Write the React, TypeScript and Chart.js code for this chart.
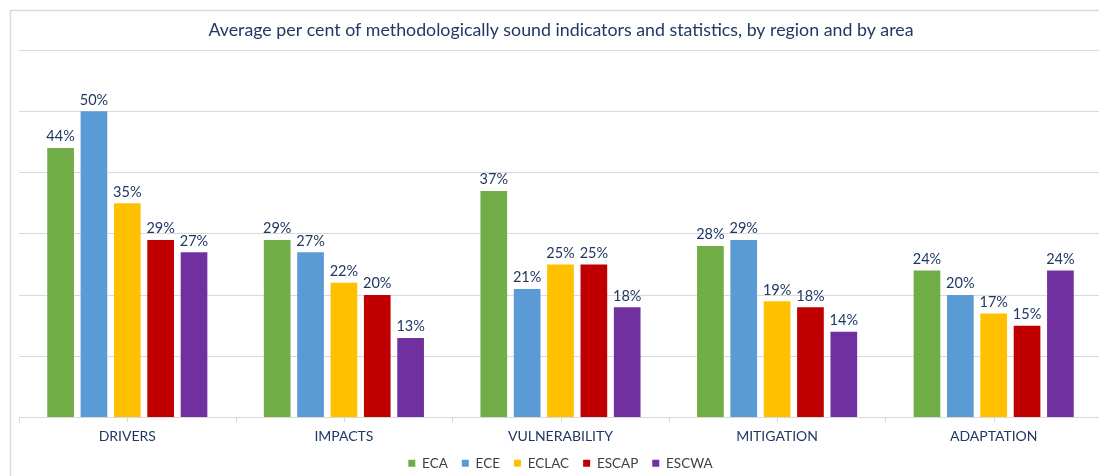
import React, { useEffect, useRef } from "react";
import { Chart, registerables } from "chart.js";

Chart.register(...registerables);

const categories = ["DRIVERS", "IMPACTS", "VULNERABILITY", "MITIGATION", "ADAPTATION"];
const seriesNames = ["ECA", "ECE", "ECLAC", "ESCAP", "ESCWA"];
const ecaValues = [44, 29, 37, 28, 24];
const eceValues = [50, 27, 21, 29, 20];
const eclacValues = [35, 22, 25, 19, 17];
const escapValues = [29, 20, 25, 18, 15];
const escwaValues = [27, 13, 18, 14, 24];
const seriesColors = ["#70AD47", "#5B9BD5", "#FFC000", "#C00000", "#7030A0"];
const titleText =
  "Average per cent of methodologically sound indicators and statistics, by region and by area";

const FONT = "Lato, 'Open Sans', sans-serif";
const NAVY = "#203864";
const GRID = "#d9d9d9";

export default function App() {
  const ref = useRef<HTMLCanvasElement | null>(null);

  useEffect(() => {
    const canvas = ref.current;
    if (!canvas) return;
    const allValues = [ecaValues, eceValues, eclacValues, escapValues, escwaValues];

    const framePlugin = {
      id: "frame",
      beforeDraw(chart: any) {
        const ctx = chart.ctx;
        ctx.save();
        ctx.fillStyle = "#ffffff";
        ctx.fillRect(0, 0, chart.width, chart.height);
        ctx.strokeStyle = GRID;
        ctx.lineWidth = 1.5;
        ctx.strokeRect(10.5, 10.5, chart.width + 50, chart.height + 50);
        ctx.fillStyle = NAVY;
        ctx.font = `17.8px ${FONT}`;
        ctx.textAlign = "center";
        ctx.textBaseline = "middle";
        ctx.fillText(titleText, 561, 30);
        ctx.restore();
      },
      afterDraw(chart: any) {
        const ctx = chart.ctx;
        const x = chart.scales.x;
        const bottom = chart.chartArea.bottom;
        const n = categories.length;
        const w = (x.getPixelForValue(1) - x.getPixelForValue(0));
        ctx.save();
        ctx.strokeStyle = GRID;
        ctx.lineWidth = 1;
        for (let i = 0; i < n; i++) {
          const c = x.getPixelForValue(i);
          const pts = [c - w / 2, c];
          if (i === n - 1) pts.push(c + w / 2);
          for (const p of pts) {
            ctx.beginPath();
            ctx.moveTo(Math.round(p) + 0.5, bottom);
            ctx.lineTo(Math.round(p) + 0.5, bottom + 5);
            ctx.stroke();
          }
        }
        ctx.restore();
      },
      afterDatasetsDraw(chart: any) {
        const ctx = chart.ctx;
        ctx.save();
        ctx.fillStyle = NAVY;
        ctx.font = `14.5px ${FONT}`;
        ctx.textAlign = "center";
        ctx.textBaseline = "bottom";
        chart.data.datasets.forEach((ds: any, di: number) => {
          const meta = chart.getDatasetMeta(di);
          meta.data.forEach((el: any, i: number) => {
            ctx.fillText(`${ds.data[i]}%`, el.x, el.y - 4);
          });
        });
        ctx.restore();
      },
    };

    const chart = new Chart(canvas, {
      type: "bar",
      data: {
        labels: categories,
        datasets: seriesNames.map((name, i) => ({
          label: name,
          data: allValues[i],
          backgroundColor: seriesColors[i],
          borderWidth: 0,
          categoryPercentage: 0.77,
          barPercentage: 0.8,
        })),
      },
      options: {
        responsive: false,
        animation: false,
        layout: { padding: { left: 19, right: 2, top: 50, bottom: -4 } },
        plugins: {
          legend: {
            position: "bottom",
            labels: {
              boxWidth: 7,
              boxHeight: 7,
              padding: 14,
              color: "#404040",
              font: { family: FONT, size: 13.5 },
            },
          },
          tooltip: { enabled: false },
          title: { display: false },
        },
        scales: {
          x: {
            grid: { display: false },
            border: { display: false },
            ticks: {
              color: NAVY,
              padding: 3,
              font: { family: FONT, size: 14 },
            },
            afterFit(scale: any) {
              scale.height = 25;
            },
          },
          y: {
            min: 0,
            max: 60,
            ticks: { display: false, stepSize: 10 },
            border: { display: false },
            grid: { color: GRID, drawTicks: false, lineWidth: 1 },
          },
        },
      },
      plugins: [framePlugin],
    } as any);
    return () => chart.destroy();
  }, []);

  return (
    <div style={{ position: "absolute", left: 0, top: 0, width: 1099, height: 476, overflow: "hidden" }}>
      <canvas ref={ref} width={1104} height={476} style={{ display: "block" }} />
    </div>
  );
}
